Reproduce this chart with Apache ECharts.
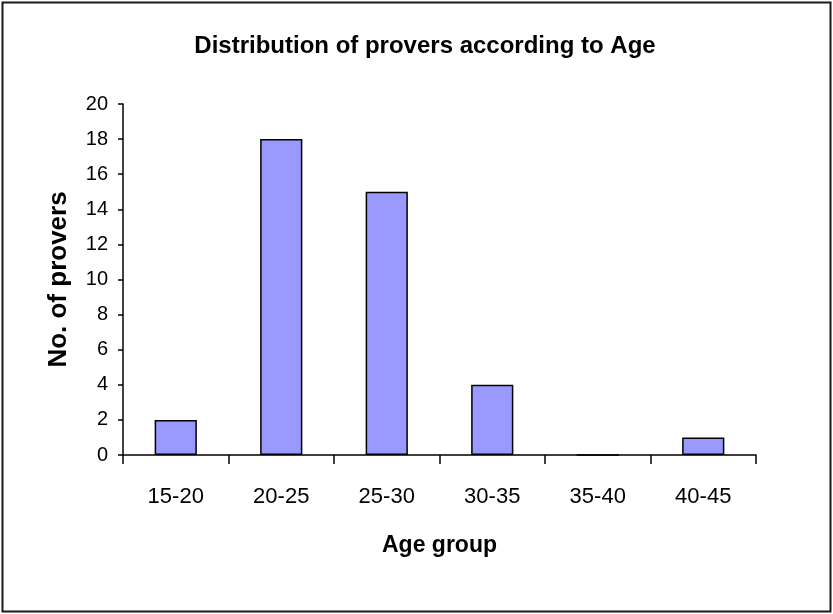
<!DOCTYPE html>
<html>
<head>
<meta charset="utf-8">
<style>
  html, body { margin: 0; padding: 0; background: #fff; }
  #chart { width: 833px; height: 614px; }
</style>
<script src="https://cdn.jsdelivr.net/npm/echarts@6/dist/echarts.min.js"></script>
</head>
<body>
<div id="chart"></div>
<script>
// Age groups and number of provers in each
const ageGroups = ['15-20', '20-25', '25-30', '30-35', '35-40', '40-45'];
const proverCounts = [2, 18, 15, 4, 0, 1];
const yTicks = [0, 2, 4, 6, 8, 10, 12, 14, 16, 18, 20];

const FONT = 'Arial, "Liberation Sans", sans-serif';

const chart = echarts.init(document.getElementById('chart'), null, { renderer: 'canvas' });

chart.setOption({
  backgroundColor: '#ffffff',
  animation: false,
  title: {
    text: 'Distribution of provers according to Age',
    left: 420,
    top: 29,
    textAlign: 'center',
    textStyle: { fontFamily: FONT, fontSize: 24, fontWeight: 'bold', color: '#000' }
  },
  graphic: [{
    type: 'rect',
    shape: { x: 2.5, y: 2.5, width: 828, height: 609 },
    style: { fill: 'none', stroke: '#1a1a1a', lineWidth: 2 },
    silent: true
  }],
  grid: { left: 123, right: 77, top: 104, bottom: 159, containLabel: false },
  xAxis: {
    type: 'category',
    data: ageGroups,
    name: 'Age group',
    nameLocation: 'middle',
    nameGap: 79,
    nameTextStyle: { fontFamily: FONT, fontSize: 23, fontWeight: 'bold', color: '#000' },
    axisLine: { lineStyle: { color: '#000', width: 1.5 } },
    axisTick: { show: true, length: 9, lineStyle: { color: '#000', width: 1.5 } },
    axisLabel: { fontFamily: FONT, fontSize: 22, color: '#000', margin: 31 },
    splitLine: { show: false }
  },
  yAxis: {
    type: 'value',
    min: yTicks[0],
    max: yTicks[yTicks.length - 1],
    interval: 2,
    name: 'No. of provers',
    nameLocation: 'middle',
    nameGap: 51,
    nameTextStyle: { fontFamily: FONT, fontSize: 26, fontWeight: 'bold', color: '#000' },
    axisLine: { show: true, lineStyle: { color: '#000', width: 1.5 } },
    axisTick: { show: true, length: 5, lineStyle: { color: '#000', width: 1.5 } },
    axisLabel: { fontFamily: FONT, fontSize: 20, color: '#000', margin: 15 },
    splitLine: { show: false }
  },
  series: [{
    type: 'bar',
    data: proverCounts,
    barWidth: '40%',
    itemStyle: { color: '#9999FF', borderColor: '#000', borderWidth: 1.5 }
  }]
});
</script>
</body>
</html>
